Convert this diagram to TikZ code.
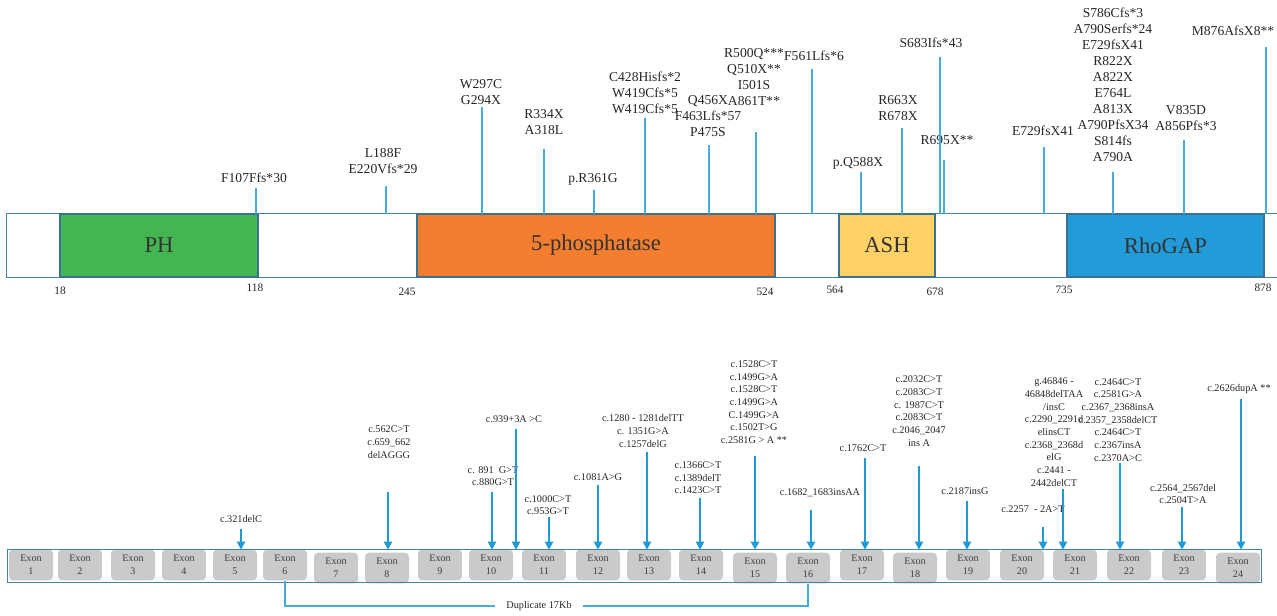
\documentclass[tikz,border=0pt]{standalone}
\usepackage{fontspec}
\setmainfont{Liberation Serif}
\usetikzlibrary{positioning,arrows.meta,fit}
\definecolor{phzelena}{HTML}{43B651}
\definecolor{fosfor}{HTML}{F37E2F}
\definecolor{ashzlta}{HTML}{FFD166}
\definecolor{rhomodra}{HTML}{219CD9}
\definecolor{okraj}{HTML}{3A7391}
\definecolor{linka}{HTML}{46ABDF}
\definecolor{sipka}{HTML}{1F9BD8}
\definecolor{exsiva}{HTML}{C9CACC}
\tikzset{
  domena/.style={draw=okraj,line width=0.9pt,inner sep=0pt},
  dtext/.style={inner sep=0pt,font=\fontsize{17}{20}\selectfont,text=black!80},
  mut/.style={align=center,inner sep=0pt,font=\fontsize{10.2}{12}\selectfont,text=black!85},
  cdna/.style={align=center,inner sep=0pt,font=\fontsize{7.7}{9.5}\selectfont,text=black!85},
  cislo/.style={inner sep=0pt,font=\fontsize{8.5}{10}\selectfont,text=black!85},
  exon/.style={rectangle,rounded corners=3pt,fill=exsiva,minimum width=33pt,minimum height=23pt,inner sep=0pt,align=center,font=\fontsize{7.6}{9.5}\selectfont,text=black!75},
  ciara/.style={draw=linka,line width=1.1pt},
  sip/.style={-{Triangle[width=6pt,length=6pt]},draw=sipka,line width=1.5pt},
  ram/.style={draw=okraj!70!linka,line width=1pt},
}

\begin{document}
\begin{tikzpicture}[x=0.75pt,y=-0.75pt]
  \useasboundingbox (0,0) rectangle (1277,616);
  % protein a domeny
  \node[fit={(7,214) (1277,277)},inner sep=0pt] (bar) {};
  \draw[ram] (bar.north east) -- (bar.north west) -- (bar.south west) -- (bar.south east);
  \node[domena,fill=phzelena,fit={(60,214) (258,277)}] (ph) {};
  \node[domena,fill=fosfor,fit={(417,214) (775,277)}] (fos) {};
  \node[domena,fill=ashzlta,fit={(839,214) (935,277)}] (ash) {};
  \node[domena,fill=rhomodra,fit={(1067,214) (1264,277)}] (rho) {};
  \node[dtext] (tph) at (ph.center) {PH};
  \node[dtext] (tfos) at (fos.center) {5-phosphatase};
  \node[dtext] (tash) at (ash.center) {ASH};
  \node[dtext] (trho) at (rho.center) {RhoGAP};
  \node[cislo] (n1) at (60,291) {18};
  \node[cislo] (n2) at (255,288) {118};
  \node[cislo] (n3) at (407,292) {245};
  \node[cislo] (n4) at (765,292) {524};
  \node[cislo] (n5) at (835,290) {564};
  \node[cislo] (n6) at (935,292) {678};
  \node[cislo] (n7) at (1064,290) {735};
  \node[cislo] (n8) at (1263,288) {878};
  % mutacie v proteine
  \node[mut] (m1) at (254,178) {F107Ffs*30};
  \node[mut] (m2) at (383,161) {L188F\\E220Vfs*29};
  \node[mut] (m3) at (481,92) {W297C\\G294X};
  \node[mut] (m4) at (544,122) {R334X\\A318L};
  \node[mut] (m5) at (593,179) {p.R361G};
  \node[mut] (m6) at (645,93) {C428Hisfs*2\\W419Cfs*5\\W419Cfs*5};
  \node[mut] (m7) at (708,116) {Q456X\\F463Lfs*57\\P475S};
  \node[mut] (m8) at (754,77) {R500Q***\\Q510X**\\I501S\\A861T**};
  \node[mut] (m9) at (814,56) {F561Lfs*6};
  \node[mut] (m10) at (858,163) {p.Q588X};
  \node[mut] (m11) at (898,108) {R663X\\R678X};
  \node[mut] (m12) at (931,43) {S683Ifs*43};
  \node[mut] (m13) at (947,140) {R695X**};
  \node[mut] (m14) at (1043,131) {E729fsX41};
  \node[mut] (m15) at (1113,85) {S786Cfs*3\\A790Serfs*24\\E729fsX41\\R822X\\A822X\\E764L\\A813X\\A790PfsX34\\S814fs\\A790A};
  \node[mut] (m16) at (1186,118) {V835D\\A856Pfs*3};
  \node[mut] (m17) at (1233,31) {M876AfsX8**};
  \draw[ciara] (256,188) -- (256,0 |- bar.north);
  \draw[ciara] (386,186) -- (386,0 |- bar.north);
  \draw[ciara] (482,107) -- (482,0 |- bar.north);
  \draw[ciara] (544,149) -- (544,0 |- bar.north);
  \draw[ciara] (594,190) -- (594,0 |- bar.north);
  \draw[ciara] (645,118) -- (645,0 |- bar.north);
  \draw[ciara] (709,145) -- (709,0 |- bar.north);
  \draw[ciara] (756,132) -- (756,0 |- bar.north);
  \draw[ciara] (812,69) -- (812,0 |- bar.north);
  \draw[ciara] (861,172) -- (861,0 |- bar.north);
  \draw[ciara] (902,128) -- (902,0 |- bar.north);
  \draw[ciara] (940,57) -- (940,0 |- bar.north);
  \draw[ciara] (944,160) -- (944,0 |- bar.north);
  \draw[ciara] (1044,147) -- (1044,0 |- bar.north);
  \draw[ciara] (1113,172) -- (1113,0 |- bar.north);
  \draw[ciara] (1184,140) -- (1184,0 |- bar.north);
  \draw[ciara] (1266,47) -- (1266,0 |- bar.north);
  % exony
  \node[fit={(8,550) (1261,582)},inner sep=0pt] (exbar) {};
  \foreach \n/\x/\s in {1/31/0,2/80/0,3/133/0,4/184/0,5/235/0,6/285/0,7/336/3,8/387/3,
      9/440/0,10/491/0,11/544/0,12/598/0,13/649/0,14/701/0,15/755/3,16/808/3,
      17/862/0,18/915/3,19/968/0,20/1022/0,21/1075/0,22/1129/0,23/1184/0,24/1238/3}
    \node[exon] (e\n) at (\x,565+\s) {Exon\\\n};
  \draw[ram] (exbar.south west) rectangle (exbar.north east);
  \node[cdna,inner xsep=8pt] (dup) at (539,606) {Duplicate 17Kb};
  \draw[ciara] (e6.south) |- (dup.west);
  \draw[ciara] (dup.east) -| (e16.south);
  % mutacie v cDNA
  \node[cdna] (c1) at (241,519) {c.321delC};
  \node[cdna] (c2) at (389,442) {c.562C>T\\c.659\_662\\delAGGG};
  \node[cdna] (c3) at (493,476) {c. 891\ \ G>T\\c.880G>T};
  \node[cdna] (c4) at (514,419) {c.939+3A >C};
  \node[cdna] (c5) at (548,505) {c.1000C>T\\c.953G>T};
  \node[cdna] (c6) at (598,477) {c.1081A>G};
  \node[cdna] (c7) at (643,431) {c.1280 - 1281delTT\\c. 1351G>A\\c.1257delG};
  \node[cdna] (c8) at (698,478) {c.1366C>T\\c.1389delT\\c.1423C>T};
  \node[cdna] (c9) at (754,402) {c.1528C>T\\c.1499G>A\\c.1528C>T\\c.1499G>A\\C.1499G>A\\c.1502T>G\\c.2581G > A **};
  \node[cdna] (c10) at (820,493) {c.1682\_1683insAA};
  \node[cdna] (c11) at (863,448) {c.1762C>T};
  \node[cdna] (c12) at (919,411) {c.2032C>T\\c.2083C>T\\c. 1987C>T\\c.2083C>T\\c.2046\_2047\\ins A};
  \node[cdna] (c13) at (965,491) {c.2187insG};
  \node[cdna] (c14) at (1033,509) {c.2257\ \ - 2A>T};
  \node[cdna] (c15) at (1054,432) {g.46846 -\\46848delTAA\\/insC\\c.2290\_2291d\\elinsCT\\c.2368\_2368d\\elG\\c.2441 -\\2442delCT};
  \node[cdna] (c16) at (1118,420) {c.2464C>T\\c.2581G>A\\c.2367\_2368insA\\c.2357\_2358delCT\\c.2464C>T\\c.2367insA\\c.2370A>C};
  \node[cdna] (c17) at (1183,494) {c.2564\_2567del\\c.2504T>A};
  \node[cdna] (c18) at (1239,389) {c.2626dupA **};
  \draw[sip] (241,529) -- (241,0 |- exbar.north);
  \draw[sip] (388,492) -- (388,0 |- exbar.north);
  \draw[sip] (492,492) -- (492,0 |- exbar.north);
  \draw[sip] (516,429) -- (516,0 |- exbar.north);
  \draw[sip] (549,517) -- (549,0 |- exbar.north);
  \draw[sip] (598,485) -- (598,0 |- exbar.north);
  \draw[sip] (647,452) -- (647,0 |- exbar.north);
  \draw[sip] (700,498) -- (700,0 |- exbar.north);
  \draw[sip] (755,456) -- (755,0 |- exbar.north);
  \draw[sip] (811,510) -- (811,0 |- exbar.north);
  \draw[sip] (865,458) -- (865,0 |- exbar.north);
  \draw[sip] (919,466) -- (919,0 |- exbar.north);
  \draw[sip] (967,501) -- (967,0 |- exbar.north);
  \draw[sip] (1043,527) -- (1043,0 |- exbar.north);
  \draw[sip] (1063,489) -- (1063,0 |- exbar.north);
  \draw[sip] (1120,463) -- (1120,0 |- exbar.north);
  \draw[sip] (1182,507) -- (1182,0 |- exbar.north);
  \draw[sip] (1241,399) -- (1241,0 |- exbar.north);
\end{tikzpicture}
\end{document}
